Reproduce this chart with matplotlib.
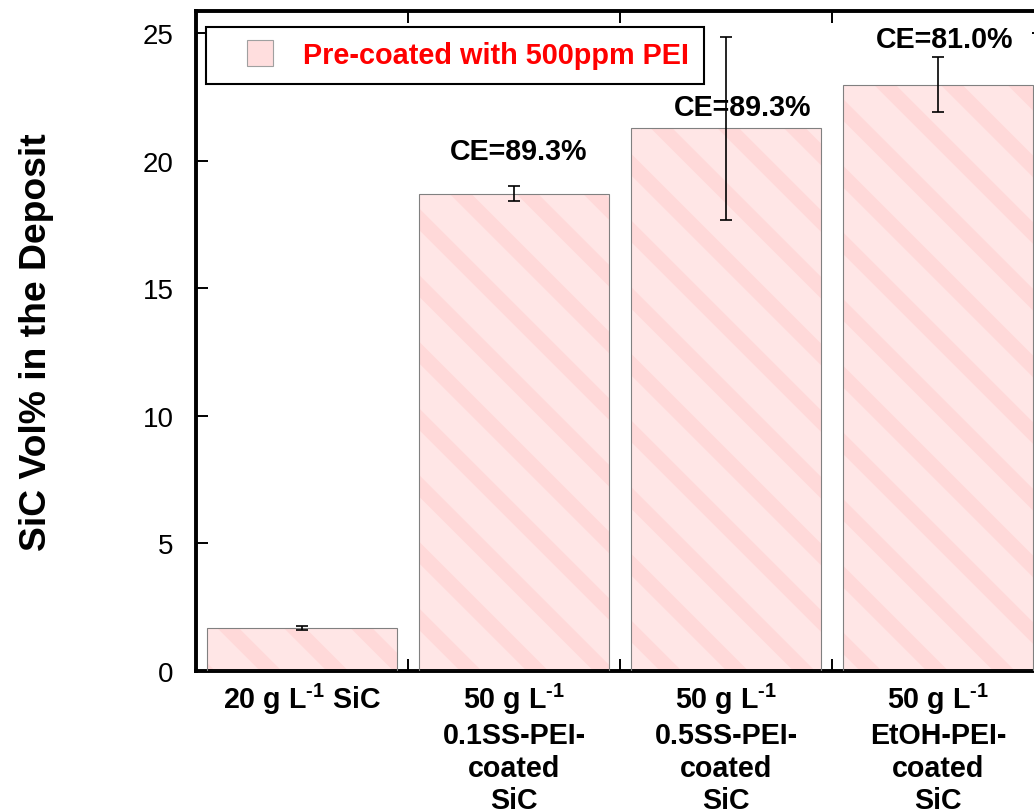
import numpy as np
import matplotlib
matplotlib.use("Agg")
import matplotlib.pyplot as plt
from matplotlib.lines import Line2D

# data
sup = r"$^{\mathbf{" + "\u2010" + r"1}}$"
categories = [
    "20 g L" + sup + " SiC",
    "50 g L" + sup + "\n0.1SS-PEI-\ncoated\nSiC",
    "50 g L" + sup + "\n0.5SS-PEI-\ncoated\nSiC",
    "50 g L" + sup + "\nEtOH-PEI-\ncoated\nSiC",
]
sic_vol = [1.67, 18.70, 21.26, 22.98]
sic_err = [0.08, 0.29, 3.60, 1.09]
ce_labels = ["", "CE=89.3%", "CE=89.3%", "CE=81.0%"]
ce_x = [0, 1.02, 2.08, 3.03]
ce_y = [0, 20.36, 22.10, 24.76]
legend_label = "Pre-coated with 500ppm PEI"

DPI = 200
plt.rcParams["font.family"] = ["Liberation Sans", "DejaVu Sans"]
plt.rcParams["mathtext.fontset"] = "custom"
plt.rcParams["mathtext.rm"] = "Liberation Sans"
plt.rcParams["mathtext.bf"] = "Liberation Sans:bold"
plt.rcParams["hatch.linewidth"] = 5.5

fig = plt.figure(figsize=(1034 / DPI, 812 / DPI), dpi=DPI)
ax = fig.add_axes([196 / 1034, 140 / 812, 848 / 1034, 660 / 812])

x = np.arange(len(categories))
# pink fill with soft diagonal stripes, then grey outline
ax.bar(x, sic_vol, width=0.9, color="#ffe6e6", edgecolor="#ffd9d9",
       linewidth=0, hatch="\\", zorder=2)
ax.bar(x, sic_vol, width=0.9, fill=False, edgecolor="#808080",
       linewidth=0.4, zorder=3)
ax.errorbar(x, sic_vol, yerr=sic_err, fmt="none", ecolor="black",
            elinewidth=0.6, capsize=2.0, capthick=0.6, zorder=4)

for lab, cx, cy in zip(ce_labels, ce_x, ce_y):
    if lab:
        ax.text(cx, cy, lab, ha="center", va="center", fontsize=10.3,
                fontweight="bold", zorder=5)

ax.set_xlim(-0.5, 3.5)
ax.set_ylim(0, 25.86)
ax.set_yticks([0, 5, 10, 15, 20, 25])
ax.set_xticks(x)
ax.set_xticklabels(categories, fontsize=10.3, fontweight="bold",
                   linespacing=1.22)
ax.set_xticks([0.5, 1.5, 2.5], minor=True)
ax.tick_params(axis="x", which="major", length=0, pad=3.5)
ax.tick_params(axis="x", which="minor", direction="in", length=4.3,
               width=0.7, top=True, bottom=True)
ax.tick_params(axis="y", which="major", direction="in", length=4.3,
               width=0.7, left=True, right=True, labelsize=10, pad=8)

for sp in ax.spines.values():
    sp.set_linewidth(1.4)

ax.set_ylabel("SiC Vol% in the Deposit", fontsize=13.4, fontweight="bold")
ax.yaxis.set_label_coords(-0.168, 0.5)

handle = Line2D([], [], linestyle="none", marker="s", markersize=9.4,
                markerfacecolor="#ffdede", markeredgecolor="#a0a0a0",
                markeredgewidth=0.4)
leg = ax.legend([handle], [legend_label], loc="upper left",
                bbox_to_anchor=(10 / 848, 1 - 16 / 660), borderaxespad=0,
                fancybox=False, frameon=True, edgecolor="black",
                fontsize=10.4, handlelength=2.77, handletextpad=0.1,
                borderpad=0.5, framealpha=1)
leg.get_frame().set_linewidth(0.75)
for t in leg.get_texts():
    t.set_color("red")
    t.set_fontweight("bold")

fig.savefig("out.png", dpi=DPI)
